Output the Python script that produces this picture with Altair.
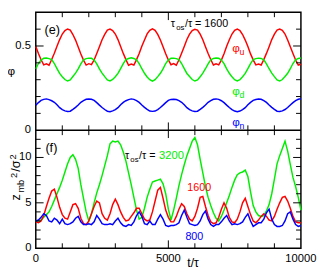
import altair as alt
import pandas as pd

# ---------------- data ----------------
t = list(range(0, 10001, 100))

phi_u = [0.497, 0.455, 0.418, 0.388, 0.394, 0.386, 0.420, 0.457, 0.498, 0.538, 0.571, 0.592, 0.601, 0.594, 0.568, 0.535,
         0.494, 0.453, 0.416, 0.387, 0.395, 0.389, 0.417, 0.456, 0.496, 0.537, 0.569, 0.594, 0.600, 0.592, 0.571, 0.538,
         0.497, 0.456, 0.419, 0.386, 0.393, 0.387, 0.419, 0.455, 0.499, 0.536, 0.572, 0.593, 0.602, 0.593, 0.569, 0.536,
         0.495, 0.454, 0.417, 0.389, 0.396, 0.386, 0.418, 0.457, 0.497, 0.539, 0.570, 0.592, 0.599, 0.594, 0.570, 0.537,
         0.496, 0.455, 0.420, 0.387, 0.394, 0.388, 0.416, 0.454, 0.498, 0.537, 0.571, 0.593, 0.601, 0.592, 0.568, 0.535,
         0.497, 0.453, 0.418, 0.388, 0.393, 0.387, 0.419, 0.456, 0.496, 0.538, 0.570, 0.594, 0.600, 0.593, 0.571, 0.536,
         0.495, 0.455, 0.417, 0.387, 0.392]

phi_d = [0.365, 0.396, 0.417, 0.427, 0.429, 0.425, 0.419, 0.396, 0.366, 0.337, 0.317, 0.301, 0.292, 0.299, 0.319, 0.339,
         0.364, 0.394, 0.418, 0.425, 0.428, 0.427, 0.417, 0.394, 0.364, 0.339, 0.318, 0.299, 0.293, 0.301, 0.317, 0.337,
         0.366, 0.395, 0.419, 0.426, 0.430, 0.426, 0.418, 0.395, 0.365, 0.338, 0.316, 0.300, 0.291, 0.300, 0.318, 0.338,
         0.364, 0.396, 0.417, 0.427, 0.428, 0.425, 0.419, 0.396, 0.366, 0.337, 0.319, 0.301, 0.292, 0.299, 0.317, 0.339,
         0.365, 0.394, 0.418, 0.426, 0.429, 0.427, 0.417, 0.395, 0.364, 0.338, 0.317, 0.300, 0.293, 0.300, 0.318, 0.337,
         0.366, 0.395, 0.419, 0.425, 0.428, 0.426, 0.418, 0.394, 0.365, 0.339, 0.318, 0.299, 0.292, 0.301, 0.319, 0.338,
         0.365, 0.396, 0.418, 0.426, 0.429]

phi_n = [0.148, 0.164, 0.177, 0.183, 0.186, 0.182, 0.175, 0.166, 0.151, 0.134, 0.122, 0.115, 0.111, 0.113, 0.124, 0.136,
         0.150, 0.166, 0.176, 0.184, 0.185, 0.184, 0.177, 0.164, 0.149, 0.135, 0.123, 0.113, 0.110, 0.115, 0.122, 0.134,
         0.151, 0.165, 0.175, 0.182, 0.186, 0.183, 0.176, 0.165, 0.150, 0.136, 0.124, 0.114, 0.112, 0.114, 0.123, 0.135,
         0.149, 0.164, 0.177, 0.183, 0.184, 0.182, 0.176, 0.166, 0.151, 0.134, 0.122, 0.115, 0.111, 0.113, 0.124, 0.136,
         0.150, 0.166, 0.176, 0.184, 0.186, 0.183, 0.175, 0.164, 0.149, 0.135, 0.123, 0.114, 0.110, 0.114, 0.122, 0.134,
         0.151, 0.165, 0.177, 0.182, 0.185, 0.184, 0.176, 0.165, 0.150, 0.136, 0.124, 0.113, 0.111, 0.115, 0.123, 0.135,
         0.150, 0.164, 0.176, 0.184, 0.187]

z_3200 = [3.0, 3.0, 3.1, 3.4, 3.7, 4.0, 4.6, 5.3, 6.0, 6.7,
          7.5, 8.4, 9.3, 10.0, 10.3, 9.8, 8.8, 7.0, 5.5, 4.0,
          3.0, 3.8, 5.0, 6.1, 7.0, 8.0, 9.1, 10.2, 11.5, 11.8,
          11.7, 11.8, 11.4, 10.6, 9.6, 8.3, 7.0, 5.6, 4.2, 3.2,
          3.4, 4.4, 5.6, 6.5, 7.3, 7.4, 7.5, 7.6, 7.1, 6.0,
          4.3, 3.1, 4.2, 5.5, 6.9, 8.1, 9.2, 10.2, 11.0, 11.8,
          12.2, 11.4, 9.8, 8.3, 6.8, 5.6, 4.7, 3.9, 3.3, 3.0,
          3.5, 4.2, 5.0, 5.8, 6.7, 7.5, 8.1, 8.3, 8.4, 8.6,
          7.9, 6.2, 4.7, 4.0, 3.6, 3.5, 3.6, 4.1, 4.8, 6.0,
          7.6, 9.3, 10.2, 11.0, 11.8, 10.7, 9.2, 7.8, 6.8, 5.6,
          4.2]

z_1600 = [2.9, 2.8, 3.0, 3.6, 4.6, 5.5, 6.3, 6.5, 5.6, 4.5,
          3.7, 3.3, 3.2, 4.0, 4.8, 4.9, 4.4, 3.3, 2.7, 2.6,
          3.0, 3.8, 4.6, 5.2, 5.0, 3.8, 3.3, 3.1, 3.8, 4.8,
          5.4, 4.8, 4.0, 3.4, 3.0, 3.1, 3.5, 3.9, 4.4, 4.4,
          3.8, 3.2, 3.0, 3.1, 4.0, 5.2, 6.4, 6.7, 5.5, 4.2,
          3.4, 2.9, 2.9, 3.5, 4.3, 4.9, 4.6, 3.8, 3.2, 3.0,
          3.5, 4.4, 5.6, 5.7, 4.6, 3.6, 2.9, 2.7, 2.8, 3.4,
          4.3, 5.0, 4.4, 3.4, 2.9, 2.8, 3.2, 4.0, 5.0, 5.5,
          4.6, 3.7, 3.0, 2.8, 3.1, 3.5, 3.8, 3.5, 3.1, 3.0,
          3.5, 4.3, 5.0, 5.6, 5.7, 5.2, 4.4, 3.5, 2.9, 2.8,
          2.8]

z_800 = [3.0, 3.1, 3.4, 3.8, 3.6, 3.0, 2.9, 3.3, 3.1, 2.7,
         3.2, 2.7, 2.6, 2.7, 2.9, 3.3, 3.5, 2.9, 2.6, 2.6,
         2.7, 2.6, 2.9, 3.6, 3.2, 2.7, 2.6, 2.6, 2.7, 2.6,
         3.0, 3.3, 2.8, 2.5, 2.4, 2.6, 2.5, 2.9, 3.6, 4.0,
         3.5, 2.7, 2.6, 3.0, 2.6, 2.6, 3.2, 3.7, 3.2, 2.5,
         2.4, 2.5, 2.5, 2.6, 2.8, 3.6, 4.2, 3.4, 2.7, 2.6,
         2.5, 2.6, 3.0, 3.7, 4.1, 3.2, 2.6, 2.4, 2.6, 2.6,
         2.9, 3.3, 3.6, 3.0, 2.6, 2.7, 2.6, 2.7, 2.9, 3.4,
         3.8, 3.0, 2.4, 2.6, 2.8, 2.8, 3.2, 3.9, 4.3, 3.2,
         2.6, 2.4, 2.4, 2.5, 3.0, 3.8, 4.0, 3.2, 2.6, 2.4,
         2.5]

x_ticks_minor = [1000, 2000, 3000, 4000, 6000, 7000, 8000, 9000]
x_ticks_major = [5000]
x_labels = [0, 5000, 10000]
x_label_text = ["0", "5000", "10000"]
phi_ticks_minor = [0.1, 0.2, 0.3, 0.4, 0.6]
phi_ticks_major = [0.5]
phi_labels = [0, 0.5]
phi_label_text = ["0", "0.5"]
z_ticks_minor = [1, 2, 3, 4, 6, 7, 8, 9, 11, 12]
z_ticks_major = [5, 10]
z_labels = [0, 5, 10]
z_label_text = ["0", "5", "10"]

# ---------------- layout / style ----------------
F = "Liberation Sans"
W = 272
H = 242
HP = H / 2
RED, GREEN, BLUE = "#ff0000", "#00ee00", "#0000ff"
LS, LM = 5, 8  # minor / major tick length

xs = alt.Scale(domain=[0, 10000], nice=False, zero=False)
ys_top = alt.Scale(domain=[-0.7, 0.7], nice=False, zero=False)
ys_bot = alt.Scale(domain=[0, 26], nice=False, zero=False)

top_df = pd.DataFrame({"t": t, "u": phi_u, "d": phi_d, "n": phi_n})
bot_df = pd.DataFrame({"t": t, "g": z_3200, "r": z_1600, "b": z_800})
one = pd.DataFrame({"k": [0]})

layers = []


def line(df, col, scale, color):
    return alt.Chart(df).mark_line(color=color, strokeWidth=1.5).encode(
        x=alt.X("t:Q", scale=xs, axis=None),
        y=alt.Y(f"{col}:Q", scale=scale, axis=None),
    )


layers += [line(top_df, "u", ys_top, RED), line(top_df, "d", ys_top, GREEN), line(top_df, "n", ys_top, BLUE)]
layers += [line(bot_df, "g", ys_bot, GREEN), line(bot_df, "r", ys_bot, RED), line(bot_df, "b", ys_bot, BLUE)]


def xticks(vals, y0, y1):
    return alt.Chart(pd.DataFrame({"t": vals})).mark_rule(color="black", strokeWidth=1).encode(
        x=alt.X("t:Q", scale=xs, axis=None), y=alt.value(y0), y2=alt.value(y1))


for vals, L in ((x_ticks_minor, LS), (x_ticks_major, LM)):
    layers += [xticks(vals, 0, L), xticks(vals, HP - L, HP + L), xticks(vals, H - L, H)]


def yticks(vals, scale, L):
    df = pd.DataFrame({"v": vals})
    base = alt.Chart(df).mark_rule(color="black", strokeWidth=1)
    return [
        base.encode(y=alt.Y("v:Q", scale=scale, axis=None), x=alt.value(0), x2=alt.value(L)),
        base.encode(y=alt.Y("v:Q", scale=scale, axis=None), x=alt.value(W - L), x2=alt.value(W)),
    ]


layers += yticks(phi_ticks_minor, ys_top, LS) + yticks(phi_ticks_major, ys_top, LM)
layers += yticks(z_ticks_minor, ys_bot, LS) + yticks(z_ticks_major, ys_bot, LM)

# panel separator
layers.append(alt.Chart(one).mark_rule(color="black", strokeWidth=1.5).encode(
    x=alt.value(0), x2=alt.value(W), y=alt.value(HP)))

# tick labels
layers.append(alt.Chart(pd.DataFrame({"v": phi_labels, "s": phi_label_text})).mark_text(
    align="right", baseline="middle", dx=-5, font=F, fontSize=11.5, color="black").encode(
    y=alt.Y("v:Q", scale=ys_top, axis=None), x=alt.value(0), text="s:N"))
layers.append(alt.Chart(pd.DataFrame({"v": z_labels, "s": z_label_text})).mark_text(
    align="right", baseline="middle", dx=-4.5, font=F, fontSize=11.5, color="black").encode(
    y=alt.Y("v:Q", scale=ys_bot, axis=None), x=alt.value(0), text="s:N"))
layers.append(alt.Chart(pd.DataFrame({"t": x_labels, "s": x_label_text})).mark_text(
    align="center", baseline="middle", font=F, fontSize=11.5, color="black").encode(
    x=alt.X("t:Q", scale=xs, axis=None), y=alt.value(H + 11.5), text="s:N"))


def txt(s, x, y, size, color="black", angle=0, align="left", baseline="alphabetic"):
    return alt.Chart(pd.DataFrame({"s": [s]})).mark_text(
        align=align, baseline=baseline, font=F, fontSize=size, color=color, angle=angle).encode(
        x=alt.value(x), y=alt.value(y), text="s:N")


# axis titles
layers.append(txt("φ", -25, 60.5, 12, align="center", baseline="middle"))
layers.append(txt("z", -16.5, 193, 13, angle=270))
layers.append(txt("mb", -12, 185, 9.5, angle=270))
layers.append(txt("2", -19.5, 170, 9.5, angle=270))
layers.append(txt("/σ", -16.5, 163.5, 13, angle=270))
layers.append(txt("2", -20.5, 151, 9.5, angle=270))
layers.append(txt("t/τ", 155.5, 261, 12.5))

# panel annotations
layers.append(txt("(e)", 17, 17.9, 13, align="center", baseline="middle"))
layers.append(txt("τ", 138.5, 15.0, 11))
layers.append(txt("os", 144, 17.9, 8))
layers.append(txt("/τ = 1600", 153, 15.0, 11))
layers.append(txt("φ", 201.5, 40.3, 12, color=RED))
layers.append(txt("u", 209, 43.3, 9, color=RED))
layers.append(txt("φ", 201.5, 85.0, 12, color=GREEN))
layers.append(txt("d", 209, 88.0, 9, color=GREEN))
layers.append(txt("φ", 201.5, 116.8, 12, color=BLUE))
layers.append(txt("n", 209, 119.8, 9, color=BLUE))

layers.append(txt("(f)", 16, 139.3, 13, align="center", baseline="middle"))
layers.append(txt("τ", 91.5, 150.2, 11))
layers.append(txt("os", 97, 153.2, 8))
layers.append(txt("/τ = ", 106, 150.2, 11))
layers.append(txt("3200", 126.5, 150.2, 11.5, color=GREEN))
layers.append(txt("1600", 155.5, 183.7, 11, color=RED))
layers.append(txt("800", 153.5, 233.1, 11, color=BLUE))

chart = alt.layer(*layers).resolve_scale(y="independent").properties(
    width=W, height=H,
    autosize=alt.AutoSizeParams(type="none"),
    padding={"left": 28.5, "top": 1, "right": 16.5, "bottom": 20},
).configure_view(stroke="black", strokeWidth=1.5)

chart.save("out.html", embed_options={"renderer": "svg", "actions": False})
